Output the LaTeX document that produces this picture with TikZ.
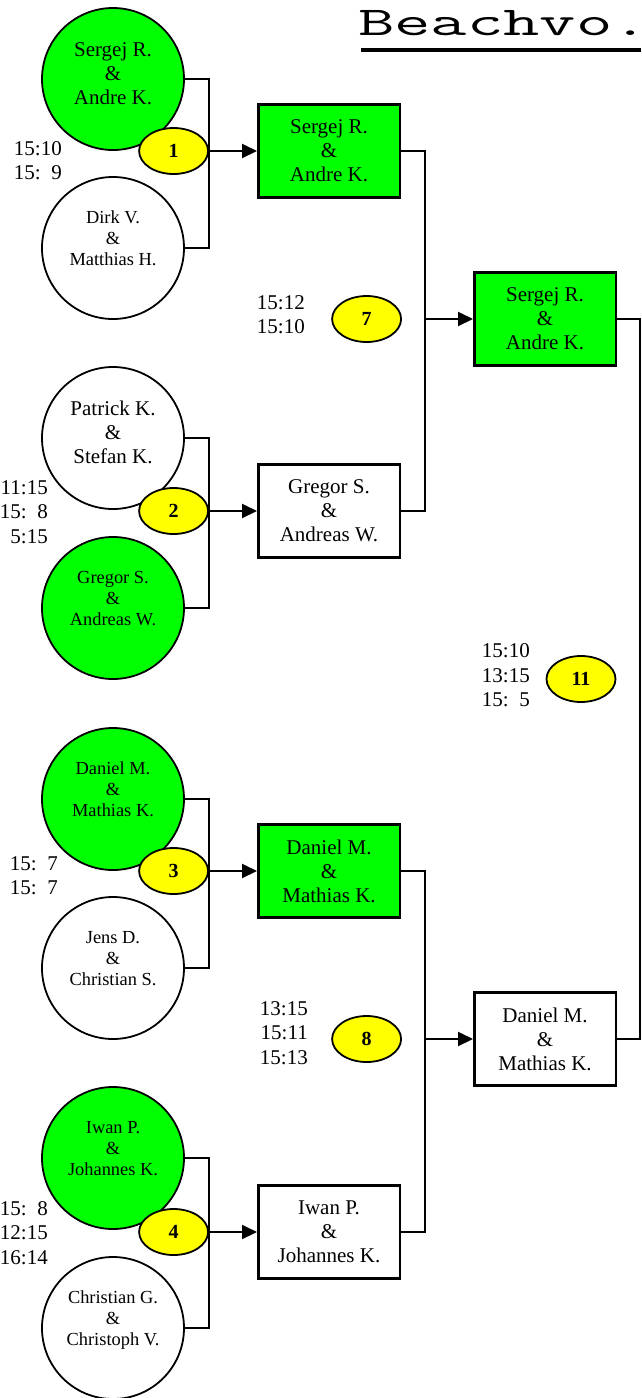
\documentclass[tikz,border=0pt]{standalone}
\usepackage{fontspec}
\setmainfont{Liberation Serif}
\usetikzlibrary{arrows.meta, positioning, shapes.geometric}
\definecolor{wingreen}{RGB}{0,255,0}
\definecolor{gameyellow}{RGB}{255,255,0}

\begin{document}
\begin{tikzpicture}[x=1pt, y=-1pt,
        team/.style={circle, draw, line width=1.8pt, minimum size=142pt, inner sep=0pt,
                     align=center, font=\fontsize{21}{24}\selectfont,
                     text height=52pt, text depth=2pt},
        small/.style={font=\fontsize{18.4}{21}\selectfont, text height=36pt, text depth=2pt},
        win/.style={fill=wingreen},
        pair/.style={rectangle, draw, line width=2.5pt, minimum width=141.5pt,
                     minimum height=93pt, align=center, font=\fontsize{21}{24}\selectfont},
        game/.style={ellipse, draw, line width=1.8pt, fill=gameyellow, minimum width=69pt,
                     minimum height=46pt, inner sep=0pt, font=\fontsize{20}{24}\selectfont\bfseries},
        score/.style={anchor=east, align=right, inner sep=0pt, font=\fontsize{21}{24.5}\selectfont},
        ln/.style={line width=2pt},
        arr/.style={-{Triangle[length=15pt,width=14pt]}, line width=2pt}]
      \useasboundingbox (0,0) rectangle (641,1398);
      % title
      \node[anchor=base west, inner sep=0pt, xscale=1.72,
            font=\ttfamily\fontsize{41}{41}\selectfont] (title) at (358,35) {Beachvo.};
      \draw[line width=4pt] (361,50) -- (641,50);
      % first round
      \node[team, win] (t1) at (113,79) {Sergej R.\\\&\\Andre K.};
      \node[team, small] (t2) at (113,248) {Dirk V.\\\&\\Matthias H.};
      \node[team] (t3) at (113,438) {Patrick K.\\\&\\Stefan K.};
      \node[team, small, win] (t4) at (113,608) {Gregor S.\\\&\\Andreas W.};
      \node[team, small, win] (t5) at (113,799) {Daniel M.\\\&\\Mathias K.};
      \node[team, small] (t6) at (113,968) {Jens D.\\\&\\Christian S.};
      \node[team, small, win] (t7) at (113,1158) {Iwan P.\\\&\\Johannes K.};
      \node[team, small] (t8) at (113,1328) {Christian G.\\\&\\Christoph V.};
      \coordinate (j1) at (209,151);
      \coordinate (j2) at (209,511);
      \coordinate (j3) at (209,871);
      \coordinate (j4) at (209,1232);
      \node[game, left=0pt of j1] (g1) {1};
      \node[game, left=0pt of j2] (g2) {2};
      \node[game, left=0pt of j3] (g3) {3};
      \node[game, left=0pt of j4] (g4) {4};
      \node[pair, win, right=48pt of j1] (b1) {Sergej R.\\\&\\Andre K.};
      \node[pair, right=48pt of j2] (b2) {Gregor S.\\\&\\Andreas W.};
      \node[pair, win, right=48pt of j3] (b3) {Daniel M.\\\&\\Mathias K.};
      \node[pair, right=48pt of j4] (b4) {Iwan P.\\\&\\Johannes K.};
      \draw[ln] (t1.east) -| (j1) |- (t2.east);
      \draw[ln] (t3.east) -| (j2) |- (t4.east);
      \draw[ln] (t5.east) -| (j3) |- (t6.east);
      \draw[ln] (t7.east) -| (j4) |- (t8.east);
      \draw[arr] (j1) -- (b1.west);
      \draw[arr] (j2) -- (b2.west);
      \draw[arr] (j3) -- (b3.west);
      \draw[arr] (j4) -- (b4.west);
      % second round
      \coordinate (j5) at (425,319);
      \coordinate (j6) at (425,1039);
      \node[game, left=23pt of j5] (g7) {7};
      \node[game, left=23pt of j6] (g8) {8};
      \node[pair, win, right=48pt of j5] (r1) {Sergej R.\\\&\\Andre K.};
      \node[pair, right=48pt of j6] (r2) {Daniel M.\\\&\\Mathias K.};
      \draw[ln] (b1.east) -| (j5) |- (b2.east);
      \draw[ln] (b3.east) -| (j6) |- (b4.east);
      \draw[arr] (j5) -- (r1.west);
      \draw[arr] (j6) -- (r2.west);
      % final
      \coordinate (j7) at (640,679);
      \node[game] (g11) at (581,679) {11};
      \draw[ln] (r1.east) -| (j7) |- (r2.east);
      % results
      \node[score] (s1) at (62,160.5) {15:10\\15:\ \ 9};
      \node[score] (s2) at (48,512) {11:15\\15:\ \ 8\\5:15};
      \node[score] (s3) at (58,875.5) {15:\ \ 7\\15:\ \ 7};
      \node[score] (s4) at (48,1233) {15:\ \ 8\\12:15\\16:14};
      \node[score] (s7) at (305,314.5) {15:12\\15:10};
      \node[score] (s8) at (308,1033) {13:15\\15:11\\15:13};
      \node[score] (s11) at (530,675.5) {15:10\\13:15\\15:\ \ 5};
    \end{tikzpicture}
\end{document}
